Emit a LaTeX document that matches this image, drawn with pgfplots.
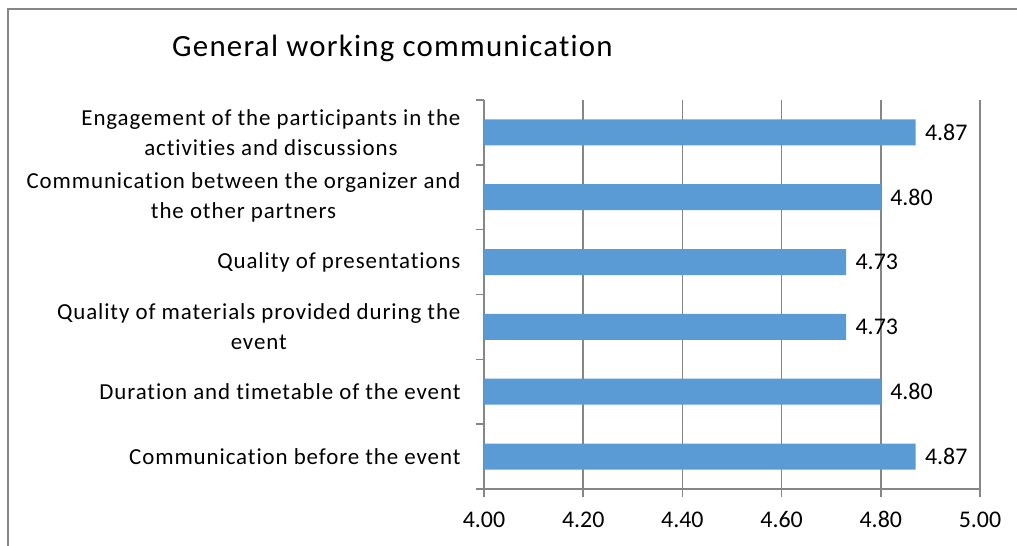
\documentclass[border=0pt]{standalone}
\usepackage{fontspec}
\setmainfont{Carlito}[LetterSpace=4,Ligatures={NoCommon}]
\newfontfamily\numfont{Carlito}
\usepackage{pgfplots}
\pgfplotsset{compat=1.18}
\definecolor{barblue}{HTML}{5B9BD5}
\definecolor{gridgray}{HTML}{868686}
\begin{document}
\begin{tikzpicture}[x=1bp,y=1bp]
\path[use as bounding box] (0,0) rectangle (1017,546);
\draw[gridgray,line width=1.5bp] (8,-5) -- (8,537) -- (1025,537);
\node[anchor=west,inner sep=0pt,font=\fontsize{31}{36}\selectfont] at (172,498) {General working communication};
\begin{axis}[
  at={(484bp,57bp)}, anchor=south west,
  scale only axis, width=496bp, height=389bp,
  xmin=4, xmax=5, ymin=-0.5, ymax=5.5,
  xbar, bar width=26bp, bar shift=0pt,
  xtick={4,4.2,4.4,4.6,4.8,5},
  xticklabels={4.00,4.20,4.40,4.60,4.80,5.00},
  x tick label style={font=\numfont\fontsize{24}{28}\selectfont, yshift=-11bp},
  xmajorgrids, grid style={gridgray,line width=1.5bp},
  axis x line*=bottom, axis y line*=left,
  axis line style={gridgray,line width=1.5bp},
  tick align=outside, major tick length=8bp,
  tick style={gridgray,line width=1.5bp},
  ytick={0,1,2,3,4,5},
  yticklabels={
    {Communication before the event},
    {Duration and timetable of the event},
    {Quality of materials provided during the\\event},
    {Quality of presentations},
    {Communication between the organizer and\\the other partners},
    {Engagement of the participants in the\\activities and discussions}},
  y tick label style={align=center, font=\fontsize{23}{30}\selectfont, xshift=-12bp},
  ytick style={draw=none},
  extra y ticks={-0.5,0.5,1.5,2.5,3.5,4.5,5.5},
  extra y tick labels={},
  extra y tick style={ytick style={draw=gridgray,line width=1.5bp}, grid=none},
  point meta=x,
  nodes near coords={\pgfmathprintnumber[fixed,fixed zerofill,precision=2]{\pgfplotspointmeta}},
  nodes near coords style={font=\numfont\fontsize{24}{28}\selectfont, anchor=west, xshift=6bp, black, /pgf/number format/assume math mode=true},
]
\addplot[fill=barblue, draw=none] coordinates {
  (4.87,0) (4.80,1) (4.73,2) (4.73,3) (4.80,4) (4.87,5)
};
\end{axis}
\end{tikzpicture}
\end{document}
